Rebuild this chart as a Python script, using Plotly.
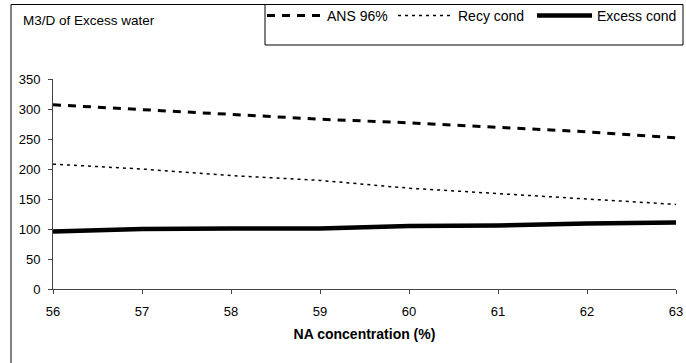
import plotly.graph_objects as go

na_conc = [56, 57, 58, 59, 60, 61, 62, 63]
ans_96 = [307, 299, 291, 283, 277, 269, 262, 252]
recy_cond = [208, 200, 189, 181, 168, 159, 150, 141]
excess_cond = [96, 100, 101, 101, 105, 106, 109, 111]
y_ticks = [0, 50, 100, 150, 200, 250, 300, 350]

W, H = 686, 363
L, R, T, B = 53, 10, 79, 74
pw, ph = W - L - R, H - T - B

def px(x):
    return (x - L) / pw

def py(y):
    return 1 - (y - T) / ph

fig = go.Figure()
fig.add_trace(go.Scatter(x=na_conc, y=ans_96, mode="lines", name="ANS 96%", legend="legend",
                         line=dict(color="black", width=3, dash="8px,7px")))
fig.add_trace(go.Scatter(x=na_conc, y=recy_cond, mode="lines", name="Recy cond", legend="legend2",
                         line=dict(color="black", width=1.5, dash="3px,4px")))
fig.add_trace(go.Scatter(x=na_conc, y=excess_cond, mode="lines", name="Excess cond", legend="legend3",
                         line=dict(color="black", width=4.5)))

font = "Liberation Sans, Arial, sans-serif"

def leg(xpix):
    return dict(orientation="h", x=px(xpix), y=py(0), xanchor="left", yanchor="top",
                bgcolor="rgba(0,0,0,0)", borderwidth=0, itemwidth=55,
                font=dict(size=14))

fig.update_layout(
    width=W, height=H,
    margin=dict(l=L, r=R, t=T, b=B, autoexpand=False),
    paper_bgcolor="white", plot_bgcolor="white",
    font=dict(family=font, size=13, color="black"),
    showlegend=True,
    legend=leg(262), legend2=leg(393), legend3=leg(532),
    xaxis=dict(range=[56, 63], tickvals=na_conc, showgrid=False, zeroline=False,
               showline=True, linecolor="#444", linewidth=1,
               ticks="outside", ticklen=4, tickcolor="#444",
               tickfont=dict(size=13), ticklabelstandoff=6,
               title=dict(text="<b>NA concentration (%)</b>", font=dict(size=14), standoff=11)),
    yaxis=dict(range=[0, 350], tickvals=y_ticks, showgrid=False, zeroline=False,
               showline=True, linecolor="#444", linewidth=1,
               ticks="outside", ticklen=4, tickcolor="#444",
               tickfont=dict(size=13), ticklabelstandoff=5),
    shapes=[
        dict(type="line", xref="paper", yref="paper", x0=px(11), x1=px(11),
             y0=py(363), y1=py(4.5), line=dict(color="black", width=1)),
        dict(type="line", xref="paper", yref="paper", x0=px(11), x1=px(265),
             y0=py(4.5), y1=py(4.5), line=dict(color="black", width=1)),
        dict(type="rect", xref="paper", yref="paper", x0=px(265), x1=px(683),
             y0=py(45), y1=py(4.5), line=dict(color="black", width=1), fillcolor="white", layer="below"),
    ],
    annotations=[
        dict(text="M3/D of Excess water", xref="paper", yref="paper", x=px(21), y=py(20),
             xanchor="left", yanchor="middle", showarrow=False, font=dict(size=13.5)),
    ],
)

fig.write_html("out.html")
